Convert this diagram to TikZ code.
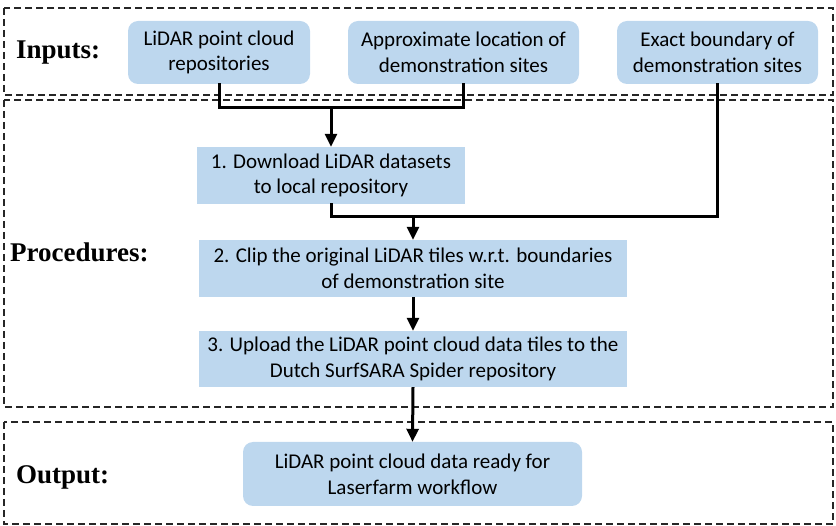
\documentclass[tikz,border=0pt]{standalone}
\usepackage{fontspec}
\setmainfont{Carlito}
\newfontfamily\headfont{Liberation Serif}
\usetikzlibrary{arrows.meta}

\definecolor{boxblue}{RGB}{189,215,238}

\tikzset{
  frame/.style={draw=black!85, line width=1.1pt, dash pattern=on 7pt off 4pt},
  heading/.style={anchor=base west, inner sep=0pt, font=\headfont\bfseries\fontsize{27}{30}\selectfont},
  inbox/.style={fill=boxblue, rounded corners=10pt, align=center, inner sep=0pt,
                font=\fontsize{21}{25.6}\selectfont},
  stepbox/.style={fill=boxblue, align=center, inner sep=0pt,
                  font=\fontsize{21}{25.6}\selectfont},
  link/.style={line width=3pt, line cap=rect},
  flow/.style={line width=3pt, -{Triangle[width=12pt,length=13pt]}},
}

\begin{document}
\begin{tikzpicture}[x=1pt,y=-1pt]
\useasboundingbox (0,0) rectangle (836,526);

% section frames
\draw[frame] (4,8) rectangle (833,95);
\draw[frame] (4,100) rectangle (833,407);
\draw[frame] (4,422) rectangle (833,524);

% section headings
\node[heading] (hin)  at (16,59)  {Inputs:};
\node[heading] (hpro) at (10,262) {Procedures:};
\node[heading] (hout) at (16,484) {Output:};

% inputs
\node[inbox, minimum width=182pt, minimum height=63pt] (in1) at (219,52.5)
  {LiDAR point cloud\\repositories};
\node[inbox, minimum width=231pt, minimum height=63pt] (in2) at (463.5,52.5)
  {Approximate location of\\demonstration sites};
\node[inbox, minimum width=201pt, minimum height=63pt] (in3) at (717.5,52.5)
  {Exact boundary of\\demonstration sites};

% procedure steps
\node[stepbox, minimum width=268pt, minimum height=57pt] (s1) at (331,175.5)
  {1. Download LiDAR datasets\\to local repository};
\node[stepbox, minimum width=428pt, minimum height=57pt] (s2) at (413,268.5)
  {2. Clip the original LiDAR tiles w.r.t. boundaries\\of demonstration site};
\node[stepbox, minimum width=428pt, minimum height=56pt] (s3) at (413,359)
  {3. Upload the LiDAR point cloud data tiles to the\\Dutch SurfSARA Spider repository};

% output
\node[inbox, minimum width=339pt, minimum height=64pt] (out) at (412.5,474)
  {LiDAR point cloud data ready for\\Laserfarm workflow};

% junctions
\coordinate (j1) at (331,108);
\coordinate (j2) at (413,217);

% connectors
\draw[link] (in1.south) |- (j1) -| (in2.south);
\draw[flow] (j1) -- (s1.north);
\draw[link] (s1.south) |- (j2) -| (in3.south);
\draw[flow] (j2) -- (s2.north);
\draw[flow] (s2.south) -- (s3.north);
\draw[flow] (s3.south) -- (out.north);
\end{tikzpicture}
\end{document}
